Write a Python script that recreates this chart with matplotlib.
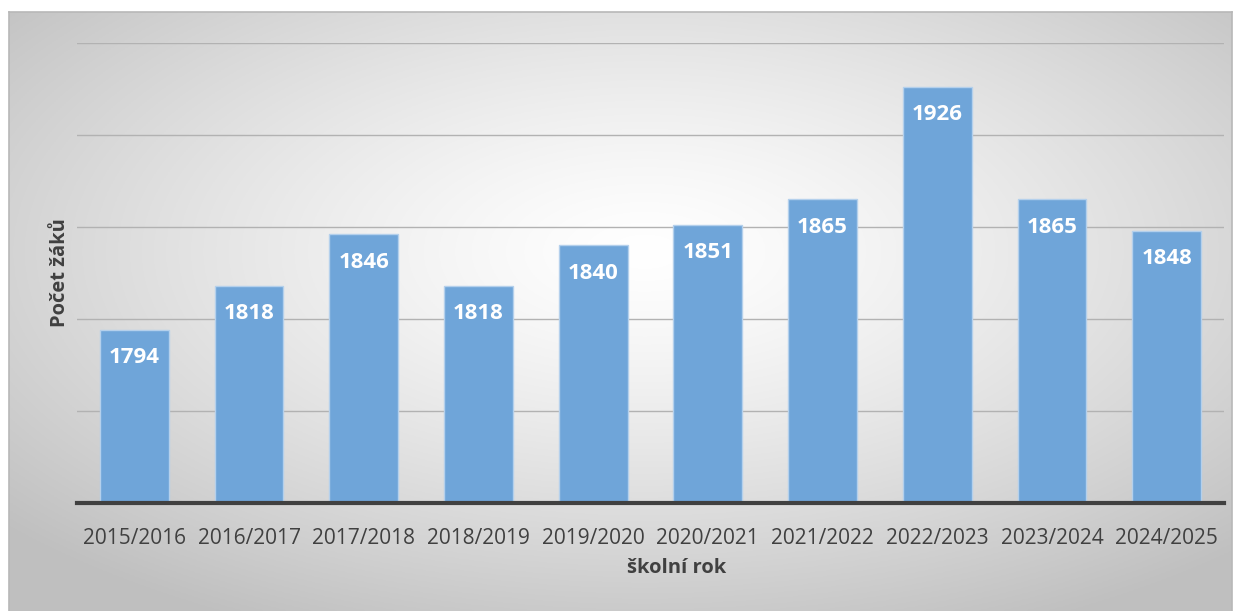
import numpy as np
import matplotlib
matplotlib.use("Agg")
import matplotlib.pyplot as plt

# data
school_years = ["2015/2016", "2016/2017", "2017/2018", "2018/2019", "2019/2020",
                "2020/2021", "2021/2022", "2022/2023", "2023/2024", "2024/2025"]
pupils = [1794, 1818, 1846, 1818, 1840, 1851, 1865, 1926, 1865, 1848]

plt.rcParams['font.family'] = ['Open Sans', 'DejaVu Sans']

W, H = 1242, 611
fig = plt.figure(figsize=(W / 100, H / 100), dpi=100)
fig.patch.set_facecolor('white')

# background panel with radial gradient
bg = fig.add_axes([9 / W, 0, (1232 - 9) / W, (611 - 12) / H])
ny, nx = 300, 600
yy, xx = np.mgrid[0:1:ny * 1j, 0:1:nx * 1j]
r = np.sqrt(((xx - 0.52) / 0.5) ** 2 + ((yy - 0.6) / 0.5) ** 2)
g = 1 - 0.25 * np.clip(r / 1.4, 0, 1) ** 1.3
bg.imshow(np.dstack([g, g, g]), aspect='auto', extent=[0, 1, 0, 1], origin='lower')
bg.set_xticks([])
bg.set_yticks([])
for s in bg.spines.values():
    s.set_color('#b8b8b8')
    s.set_linewidth(1.2)
bg.spines['bottom'].set_visible(False)

ax = fig.add_axes([77 / W, (H - 503) / H, 1147 / W, (503 - 43) / H])
ax.patch.set_alpha(0)
x = np.arange(len(school_years))
ax.set_ylim(1700, 1950)
ax.set_xlim(-0.5, len(school_years) - 0.5)
ax.set_yticks([1750, 1800, 1850, 1900, 1950])
ax.yaxis.grid(True, color='#b2b2b2', linewidth=1)
ax.set_axisbelow(True)
ax.tick_params(axis='y', length=0, labelleft=False)
ax.tick_params(axis='x', length=0, labelsize=15, colors='#404040', pad=18)

bars = ax.bar(x, [v - 1700 for v in pupils], bottom=1700, width=0.6,
              color='#6fa5d9', edgecolor='#b4d0ec', linewidth=1)
for xi, v in zip(x, pupils):
    ax.annotate(str(v), (xi, v), xytext=(0, -20), textcoords='offset points',
                ha='center', va='center', color='white', fontsize=16, fontweight='bold')

ax.set_xticks(x)
ax.set_xticklabels(school_years)
for s in ['top', 'right', 'left']:
    ax.spines[s].set_visible(False)
ax.spines['bottom'].set_color('#404040')
ax.spines['bottom'].set_linewidth(3)

ax.set_xlabel('školní rok', fontsize=14.5, fontweight='bold', color='#404040')
ax.set_ylabel('Počet žáků', fontsize=14.5, fontweight='bold', color='#404040')
ax.xaxis.set_label_coords(0.523, -0.141)
ax.yaxis.set_label_coords(-0.015, 0.5)
ax.xaxis.label.set_va('center')
ax.yaxis.label.set_va('center')

fig.savefig('out.png', dpi=100)
